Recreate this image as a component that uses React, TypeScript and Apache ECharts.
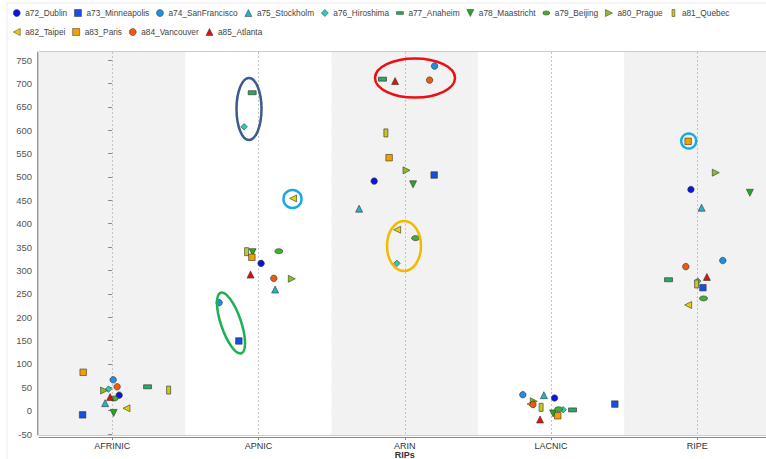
import React, { useEffect, useRef } from "react";
import * as echarts from "echarts";

const categories = ["AFRINIC", "APNIC", "ARIN", "LACNIC", "RIPE"];
const yTicks = { min: -50, max: 750, step: 50 };

const seriesNames = [
  "a72_Dublin", "a73_Minneapolis", "a74_SanFrancisco", "a75_Stockholm", "a76_Hiroshima",
  "a77_Anaheim", "a78_Maastricht", "a79_Beijing", "a80_Prague", "a81_Quebec",
  "a82_Taipei", "a83_Paris", "a84_Vancouver", "a85_Atlanta",
];

// values per category: AFRINIC, APNIC, ARIN, LACNIC, RIPE
const valuesDublin = [33, 315, 491, 27, 473];
const valuesMinneapolis = [-9, 149, 504, 14, 263];
const valuesSanFrancisco = [66, 231, 737, 34, 321];
const valuesStockholm = [16, 259, 432, 33, 434];
const valuesHiroshima = [46, 607, 315, 2, 277];
const valuesAnaheim = [51, 680, 709, 1.5, 280];
const valuesMaastricht = [-5, 339, 484, -6, 466];
const valuesBeijing = [26, 341, 369, 3, 240];
const valuesPrague = [43, 282, 514, 20, 509];
const valuesQuebec = [44, 340, 594, 7, 271];
const valuesTaipei = [5, 454, 387, 14, 226];
const valuesParis = [82, 328, 541, -11, 576];
const valuesVancouver = [51, 283, 707, 13, 308];
const valuesAtlanta = [29, 291, 705, -19, 286];

// horizontal jitter within each category (fraction of category width)
const jitterDublin = [0.048, 0.018, -0.209, 0.024, -0.044];
const jitterMinneapolis = [-0.202, -0.134, 0.201, 0.436, 0.038];
const jitterSanFrancisco = [0.007, -0.269, 0.204, -0.193, 0.174];
const jitterStockholm = [-0.048, 0.114, -0.312, -0.049, 0.029];
const jitterHiroshima = [-0.025, -0.098, -0.054, 0.083, 0.003];
const jitterAnaheim = [0.242, -0.043, -0.152, 0.147, -0.197];
const jitterMaastricht = [0.01, -0.04, 0.057, 0.014, 0.359];
const jitterBeijing = [0.014, 0.139, 0.074, 0.051, 0.042];
const jitterPrague = [-0.055, 0.228, 0.012, -0.118, 0.126];
const jitterQuebec = [0.386, -0.081, -0.129, -0.068, -0.005];
const jitterTaipei = [0.098, 0.237, -0.052, -0.14, -0.063];
const jitterParis = [-0.198, -0.045, -0.107, 0.046, -0.063];
const jitterVancouver = [0.034, 0.105, 0.17, -0.124, -0.079];
const jitterAtlanta = [-0.014, -0.054, -0.066, -0.075, 0.065];

const seriesValues = [
  valuesDublin, valuesMinneapolis, valuesSanFrancisco, valuesStockholm, valuesHiroshima,
  valuesAnaheim, valuesMaastricht, valuesBeijing, valuesPrague, valuesQuebec,
  valuesTaipei, valuesParis, valuesVancouver, valuesAtlanta,
];
const seriesJitter = [
  jitterDublin, jitterMinneapolis, jitterSanFrancisco, jitterStockholm, jitterHiroshima,
  jitterAnaheim, jitterMaastricht, jitterBeijing, jitterPrague, jitterQuebec,
  jitterTaipei, jitterParis, jitterVancouver, jitterAtlanta,
];

const seriesColors = [
  "#0a14e6", "#1a4ee0", "#1e8ee6", "#22b4c8", "#25d0b0",
  "#2aa860", "#22aa22", "#44b030", "#88c020", "#c8c820",
  "#e8d000", "#f0a000", "#f05a10", "#e01010",
];

const TRI_DOWN = "path://M0,0L10,0L5,10Z";
const TRI_RIGHT = "path://M0,0L10,5L0,10Z";
const TRI_LEFT = "path://M10,0L0,5L10,10Z";
const seriesSymbols = [
  "circle", "rect", "circle", "triangle", "diamond",
  "rect", TRI_DOWN, "circle", TRI_RIGHT, "rect",
  TRI_LEFT, "rect", "circle", "triangle",
];
const seriesSizes: any[] = [
  6.5, 6.5, 6.5, 7, 6.5,
  [8, 4], 7, [8, 5], 7, [4, 8],
  7, 6.5, 6.5, 7,
];
// legend icons (flat/tall shapes padded into a square box)
const legendIcons = [
  "circle", "rect", "circle", "triangle", "diamond",
  "path://M0,0M0,3L10,3L10,7L0,7ZM10,10", TRI_DOWN, "path://M0,0M0,5A5,3,0,1,0,10,5A5,3,0,1,0,0,5ZM10,10", TRI_RIGHT, "path://M0,0M3,0L7,0L7,10L3,10ZM10,10",
  TRI_LEFT, "rect", "circle", "triangle",
];

const FONT = "Liberation Sans";

export default function App() {
  const ref = useRef<HTMLDivElement>(null);
  useEffect(() => {
    if (!ref.current) return;
    const chart = echarts.init(ref.current, null, { renderer: "svg" });
    const series = seriesNames.map((name, s) => ({
      name,
      type: "scatter",
      xAxisIndex: 1,
      yAxisIndex: 1,
      symbol: seriesSymbols[s],
      symbolSize: seriesSizes[s],
      itemStyle: { color: seriesColors[s], borderColor: "#333", borderWidth: 0.6, opacity: 1 },
      data: seriesValues[s].map((v, i) => [i + seriesJitter[s][i], v]),
      z: 3,
    }));
    const legendText = { fontFamily: FONT, fontSize: 8.3, color: "#444" };
    const legendData = seriesNames.map((name, s) => ({
      name,
      icon: legendIcons[s],
      itemStyle: { color: seriesColors[s], borderColor: "#333", borderWidth: 0.5 },
    }));
    const option: any = {
      animation: false,
      backgroundColor: "#ffffff",
      legend: [
        {
          data: legendData.slice(0, 10),
          left: 13, top: 9, width: 1000, itemWidth: 7, itemHeight: 7, itemGap: 7,
          textStyle: legendText, padding: 0,
        },
        {
          data: legendData.slice(10),
          left: 13, top: 28, width: 1000, itemWidth: 7, itemHeight: 7, itemGap: 7,
          textStyle: legendText, padding: 0,
        },
      ],
      grid: [
        { left: 39, top: 52, width: 731.5, height: 383, show: true, borderColor: "#999", borderWidth: 1, backgroundColor: "transparent", outerBoundsMode: "none", containLabel: false },
        { left: 39, top: 60, width: 731.5, height: 374, show: false, outerBoundsMode: "none", containLabel: false },
      ],
      xAxis: [
        {
          gridIndex: 0, type: "category", data: categories, boundaryGap: true,
          name: "RIPs", nameLocation: "middle", nameGap: 13, nameMoveOverlap: false,
          nameTextStyle: { fontFamily: FONT, fontSize: 9, fontWeight: "bold", color: "#333" },
          axisLine: { show: true, onZero: false, lineStyle: { color: "#888", width: 1 } },
          offset: 2,
          axisTick: { show: true, alignWithLabel: true, length: 3, lineStyle: { color: "#888" } },
          axisLabel: { fontFamily: FONT, fontSize: 9, color: "#333", margin: 4 },
          splitArea: { show: true, areaStyle: { color: ["#f2f2f2", "#ffffff"] } },
          splitLine: { show: true, alignWithLabel: true, lineStyle: { color: "#c4c4c4", type: [2, 2], width: 1 } },
        },
        { gridIndex: 1, type: "value", min: -0.5, max: 4.5, show: false },
      ],
      yAxis: [
        {
          gridIndex: 0, type: "value", min: 0, max: 1, offset: 2,
          axisLine: { show: true, lineStyle: { color: "#999" } },
          axisLabel: { show: false }, axisTick: { show: false }, splitLine: { show: false },
        },
        {
          gridIndex: 1, type: "value", min: yTicks.min, max: yTicks.max, interval: yTicks.step,
          axisLine: { show: false },
          axisTick: { show: true, length: 4, lineStyle: { color: "#888" } },
          axisLabel: { fontFamily: FONT, fontSize: 9.5, color: "#555", margin: 7 },
          splitLine: { show: true, lineStyle: { color: "#c4c4c4", type: [2, 2], width: 1 } },
        },
      ],
      graphic: [
        { type: "rect", shape: { x: 7, y: 3, width: 800, height: 500 }, style: { fill: "none", stroke: "#ececec", lineWidth: 1 }, z: 0, silent: true },
        { type: "ellipse", shape: { cx: 249, cy: 109, rx: 12.5, ry: 31 }, style: { fill: "none", stroke: "#3b5b8c", lineWidth: 2.5 }, z: 10 },
        { type: "circle", shape: { cx: 292.5, cy: 199, r: 9 }, style: { fill: "none", stroke: "#18a8e8", lineWidth: 2.5 }, z: 10 },
        { type: "ellipse", x: 231, y: 323, rotation: 0.33, shape: { cx: 0, cy: 0, rx: 10, ry: 32 }, style: { fill: "none", stroke: "#1db055", lineWidth: 2.5 }, z: 10 },
        { type: "ellipse", shape: { cx: 415, cy: 78, rx: 40, ry: 19.5 }, style: { fill: "none", stroke: "#ee1010", lineWidth: 2.5 }, z: 10 },
        { type: "ellipse", shape: { cx: 404, cy: 246, rx: 17, ry: 25 }, style: { fill: "none", stroke: "#f5b800", lineWidth: 2.5 }, z: 10 },
        { type: "circle", shape: { cx: 688.7, cy: 141, r: 7.5 }, style: { fill: "none", stroke: "#18a8e8", lineWidth: 2.5 }, z: 10 },
      ],
      series,
    };
    chart.setOption(option);
    return () => chart.dispose();
  }, []);
  return (
    <div style={{ position: "fixed", left: 0, top: 0, width: 766, height: 459, overflow: "hidden", background: "#fff" }}>
      <div ref={ref} style={{ width: 766, height: 459 }} />
    </div>
  );
}
